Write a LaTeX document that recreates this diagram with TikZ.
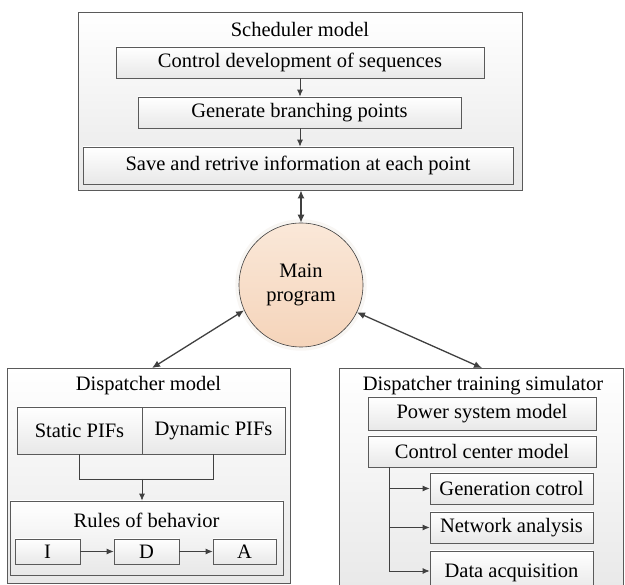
\documentclass[tikz,border=0pt]{standalone}
\usepackage{fontspec}
\setmainfont{Liberation Serif}
\usetikzlibrary{arrows.meta,shadows,calc}
\definecolor{edge}{RGB}{90,90,90}
\definecolor{ink}{RGB}{64,64,64}
\definecolor{boxlow}{RGB}{232,232,232}
\definecolor{peach}{RGB}{248,222,200}
\definecolor{peachlow}{RGB}{245,212,186}
\tikzset{
  txt/.style={font=\fontsize{20.5}{25}\selectfont},
  panel/.style={draw=edge, line width=0.8pt, top color=white, bottom color=boxlow,
    inner sep=0pt, drop shadow={shadow xshift=1.2pt, shadow yshift=-1.2pt, opacity=0.35}},
  stepbox/.style={draw=edge, line width=0.7pt, top color=white, bottom color=boxlow,
    inner sep=0pt, txt},
  label/.style={txt, inner sep=0pt},
  bigarrow/.style={draw=ink, line width=1.3pt, {Latex[length=8pt,width=7pt]}-{Latex[length=8pt,width=7pt]}},
  arr/.style={draw=ink, line width=0.8pt, -{Latex[length=7pt,width=6pt]}},
  link/.style={draw=ink, line width=0.8pt},
}
\begin{document}
\begin{tikzpicture}[x=1pt,y=-1pt]
\useasboundingbox (0,0) rectangle (625,585);

% Scheduler model
\node[panel, minimum width=444pt, minimum height=178pt] (sched) at (300,101) {};
\node[label] (schedt) at (300,29) {Scheduler model};
\node[stepbox, minimum width=368pt, minimum height=31pt] (ctrl) at (300,62.5) {Control development of sequences};
\node[stepbox, minimum width=323pt, minimum height=31pt] (gen) at (299.5,112.5) {Generate branching points};
\node[stepbox, minimum width=430pt, minimum height=37pt] (save) at (298,165.5) {Save and retrive information at each point};
\draw[arr] (ctrl.south) -- (ctrl.south |- gen.north);
\draw[arr] (ctrl.south |- gen.south) -- (ctrl.south |- save.north);

% Main program
\node[circle, draw=ink, line width=0.6pt, top color=peach!70!white, bottom color=peachlow,
  minimum size=124pt, inner sep=0pt, align=center, txt,
  drop shadow={shadow xshift=0pt, shadow yshift=0pt, opacity=0.12, shadow scale=1.06, fill=peach!80!black}]
  (main) at (301,285) {Main\\[-1pt]program};

% Dispatcher model
\node[panel, minimum width=283pt, minimum height=215pt] (disp) at (148.5,475.5) {};
\node[label] (dispt) at (148.5,386) {Dispatcher model};
\node[stepbox, minimum width=125pt, minimum height=47pt] (stat) at (79.5,430.5) {Static PIFs};
\node[stepbox, minimum width=143pt, minimum height=47pt] (dyn) at (213.5,430.5) {Dynamic PIFs};
\node[stepbox, minimum width=273pt, minimum height=74pt] (rules) at (146.5,538) {};
\node[label] (rulest) at (146.5,520) {Rules of behavior};
\node[stepbox, minimum width=65pt, minimum height=25pt] (bi) at (47.5,551.5) {I};
\node[stepbox, minimum width=65pt, minimum height=25pt] (bd) at (146.5,551.5) {D};
\node[stepbox, minimum width=63pt, minimum height=25pt] (ba) at (244.5,551.5) {A};
\coordinate (mj) at (142,479);
\draw[link] (stat.south) -- (stat.south |- mj) -- (dyn.south |- mj) -- (dyn.south);
\draw[arr] (mj) -- (mj |- rules.north);
\draw[arr] (bi.east) -- (bd.west);
\draw[arr] (bd.east) -- (ba.west);

% Dispatcher training simulator
\node[panel, minimum width=284pt, minimum height=228pt] (dts) at (481,482) {};
\node[label] (dtst) at (483,386) {Dispatcher training simulator};
\node[stepbox, minimum width=228pt, minimum height=33pt] (psm) at (482,413.5) {Power system model};
\node[stepbox, minimum width=228pt, minimum height=31pt] (ccm) at (482,451.5) {Control center model};
\node[stepbox, minimum width=163pt, minimum height=31pt] (gc) at (511.5,488.5) {Generation cotrol};
\node[stepbox, minimum width=163pt, minimum height=31pt] (na) at (511.5,527.5) {Network analysis};
\node[stepbox, minimum width=163pt, minimum height=40pt, text depth=0pt] (da) at (511.5,571) {Data acquisition};
\coordinate (trunk) at (389,0);
\draw[link] (trunk |- ccm.south) -- (trunk |- da.west);
\draw[arr] (trunk |- gc.west) -- (gc.west);
\draw[arr] (trunk |- na.west) -- (na.west);
\draw[arr] (trunk |- da.west) -- (da.west);

% Links to the main program
\coordinate (dtop) at (152,368);
\coordinate (ttop) at (482,368);
\draw[bigarrow] (main.north) -- (main.north |- sched.south);
\draw[bigarrow] (main.204) -- (dtop);
\draw[bigarrow] (main.334) -- (ttop);
\end{tikzpicture}
\end{document}
